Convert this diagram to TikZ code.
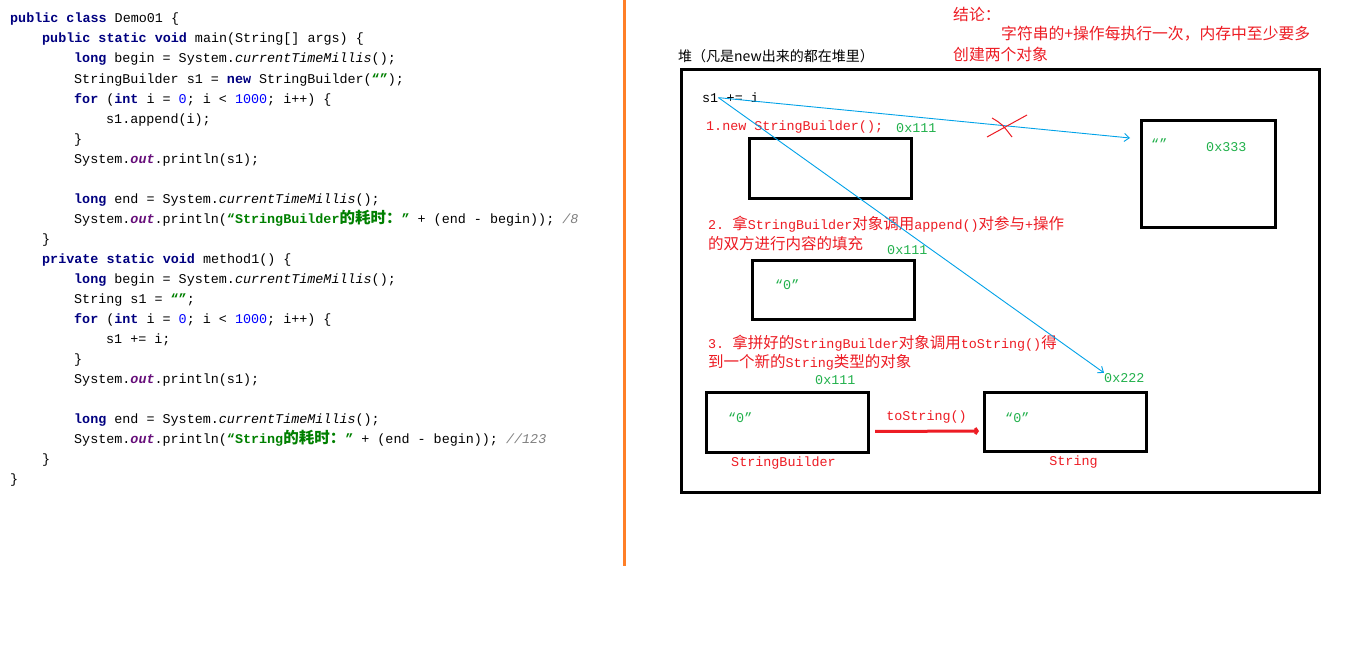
\documentclass[tikz,border=0pt]{standalone}
\usepackage{fontspec}
\setmonofont{Liberation Mono}
\newfontfamily\cjk{Noto Sans CJK SC}
\usepackage{xcolor}
\usepackage{tikz}
\usetikzlibrary{arrows.meta, positioning, calc}
\definecolor{kwblue}{RGB}{0, 0, 128}
\definecolor{numblue}{RGB}{0, 0, 255}
\definecolor{strgreen}{RGB}{0, 128, 0}
\definecolor{fieldpurple}{RGB}{102, 14, 122}
\definecolor{cmtgray}{RGB}{128, 128, 128}
\definecolor{notered}{RGB}{237, 28, 36}
\definecolor{addrgreen}{RGB}{34, 177, 76}
\definecolor{linkblue}{RGB}{0, 162, 232}
\definecolor{divorange}{RGB}{255, 127, 39}

\newcommand{\codefont}{\ttfamily\fontsize{13.4}{20}\selectfont}
\newcommand{\zh}[1]{{\cjk\fontsize{15.5}{20}\selectfont #1}}
\newcommand{\ckw}[1]{{\bfseries\color{kwblue}#1}}
\newcommand{\cnum}[1]{{\color{numblue}#1}}
\newcommand{\cstr}[1]{{\bfseries\color{strgreen}#1}}
\newcommand{\cfld}[1]{{\bfseries\itshape\color{fieldpurple}#1}}
\newcommand{\ccmt}[1]{{\itshape\color{cmtgray}#1}}
\newcommand{\cital}[1]{{\itshape #1}}

\begin{document}
\begin{tikzpicture}[
    x=1pt, y=-1pt,
    codeline/.style={anchor=base west, inner sep=0pt, font=\codefont},
    notetext/.style={codeline, text=notered},
    addr/.style={codeline, text=addrgreen},
    boxname/.style={inner sep=0pt, font=\codefont, text=notered},
    heading/.style={anchor=base west, inner sep=0pt, font=\cjk\fontsize{14}{18}\selectfont},
    concl/.style={anchor=base west, inner sep=0pt, text=notered, font=\cjk\fontsize{15.8}{20}\selectfont},
    objbox/.style={rectangle, draw=black, line width=3pt, anchor=north west, minimum width=162pt, minimum height=60pt, inner sep=0pt},
    heapbox/.style={rectangle, draw=black, line width=3pt, anchor=north west, minimum width=638pt, minimum height=423pt, inner sep=0pt},
    link/.style={-{Straight Barb[length=5pt, width=8pt]}, draw=linkblue, line width=0.9pt},
    convert/.style={-{Straight Barb[length=2pt, width=6pt]}, draw=notered, line width=3pt},
    divider/.style={draw=divorange, line width=3pt}
]
    \fill[white] (0,0) rectangle (1360,669);
    \useasboundingbox (0,0) rectangle (1360,669);

    % Code
    \node[codeline] (c0) at (10,23) {\ckw{public class} Demo01 \{};
    \node[codeline] (c1) at (42,43) {\ckw{public static void} main(String[] args) \{};
    \node[codeline] (c2) at (74,63) {\ckw{long} begin = System.\cital{currentTimeMillis}();};
    \node[codeline] (c3) at (74,83) {StringBuilder s1 = \ckw{new} StringBuilder(\cstr{“”});};
    \node[codeline] (c4) at (74,103) {\ckw{for} (\ckw{int} i = \cnum{0}; i < \cnum{1000}; i++) \{};
    \node[codeline] (c5) at (106,123) {s1.append(i);};
    \node[codeline] (c6) at (74,143) {\}};
    \node[codeline] (c7) at (74,163) {System.\cfld{out}.println(s1);};
    \node[codeline] (c9) at (74,203) {\ckw{long} end = System.\cital{currentTimeMillis}();};
    \node[codeline] (c10) at (74,223) {System.\cfld{out}.println(\cstr{“StringBuilder\zh{的耗时：}”} + (end - begin)); \ccmt{/8}};
    \node[codeline] (c11) at (42,243) {\}};
    \node[codeline] (c12) at (42,263) {\ckw{private static void} method1() \{};
    \node[codeline] (c13) at (74,283) {\ckw{long} begin = System.\cital{currentTimeMillis}();};
    \node[codeline] (c14) at (74,303) {String s1 = \cstr{“”};};
    \node[codeline] (c15) at (74,323) {\ckw{for} (\ckw{int} i = \cnum{0}; i < \cnum{1000}; i++) \{};
    \node[codeline] (c16) at (106,343) {s1 += i;};
    \node[codeline] (c17) at (74,363) {\}};
    \node[codeline] (c18) at (74,383) {System.\cfld{out}.println(s1);};
    \node[codeline] (c20) at (74,423) {\ckw{long} end = System.\cital{currentTimeMillis}();};
    \node[codeline] (c21) at (74,443) {System.\cfld{out}.println(\cstr{“String\zh{的耗时：}”} + (end - begin)); \ccmt{//123}};
    \node[codeline] (c22) at (42,463) {\}};
    \node[codeline] (c23) at (10,483) {\}};

    \draw[divider] (624,0) -- (624,566);

    % Heap
    \node[concl] (concl1) at (953,21) {结论：};
    \node[concl] (concl2) at (1001,40) {字符串的+操作每执行一次，内存中至少要多};
    \node[concl] (concl3) at (953,60) {创建两个对象};
    \node[heading] (heaptitle) at (678,62) {堆（凡是new出来的都在堆里）};
    \node[heapbox] (heap) at (680,68) {};

    \node[codeline] (s1var) at (702,102) {s1};
    \node[codeline] (s1op) at (s1var.base east) {\ += i};

    \node[notetext] (note1) at (706,130) {1.new StringBuilder();};
    \node[addr] (addr1) at (896,132) {0x111};
    \node[objbox] (box1) at (748,137) {};

    \node[objbox, minimum width=134pt, minimum height=107pt] (box333) at (1140,119) {};
    \node[addr] (empty333) at (1151,148) {“”};
    \node[addr] (addr333) at (1206,151) {0x333};

    \node[notetext] (note2a) at (708,229) {2. \zh{拿}StringBuilder\zh{对象调用}append()\zh{对参与}+\zh{操作}};
    \node[notetext] (note2b) at (708,249) {\zh{的双方进行内容的填充}};
    \node[addr] (addr2) at (887,254) {0x111};
    \node[objbox, minimum height=59pt] (box2) at (751,259) {};
    \node[addr] (val2) at (775,289) {“0”};

    \node[notetext] (note3a) at (708,348) {3. \zh{拿拼好的}StringBuilder\zh{对象调用}toString()\zh{得}};
    \node[notetext] (note3b) at (708,367) {\zh{到一个新的}String\zh{类型的对象}};
    \node[addr] (addr3) at (815,384) {0x111};
    \node[addr] (addr222) at (1104,382) {0x222};

    \node[objbox] (boxsb) at (705,391) {};
    \node[addr] (val3) at (728,422) {“0”};
    \node[objbox, minimum height=59pt] (boxstr) at (983,391) {};
    \node[addr] (val4) at (1005,422) {“0”};
    \node[boxname, below=3pt of boxsb, xshift=-4pt] (sblabel) {StringBuilder};
    \node[boxname, below=3pt of boxstr, xshift=8pt] (strlabel) {String};

    % Connectors
    \coordinate (tip333) at ($(box333.north west)+(-10,19)$);
    \draw[link] (s1var.east) -- (tip333);
    \draw[link] (s1var.east) -- (addr222.north west);
    \draw[convert, shorten <=5pt, shorten >=4pt] ([yshift=-9pt]boxsb.east) -- node[above=6pt, boxname]{toString()} ([yshift=-9pt]boxstr.west);

    % cross on the first link
    \coordinate (xmark) at (1002,126);
    \draw[notered, line width=1pt] ($(xmark)+(-15,11)$) -- ($(xmark)+(25,-11)$);
    \draw[notered, line width=1pt] ($(xmark)+(-10,-8)$) .. controls ($(xmark)+(0,-2)$) .. ($(xmark)+(10,11)$);
\end{tikzpicture}
\end{document}
